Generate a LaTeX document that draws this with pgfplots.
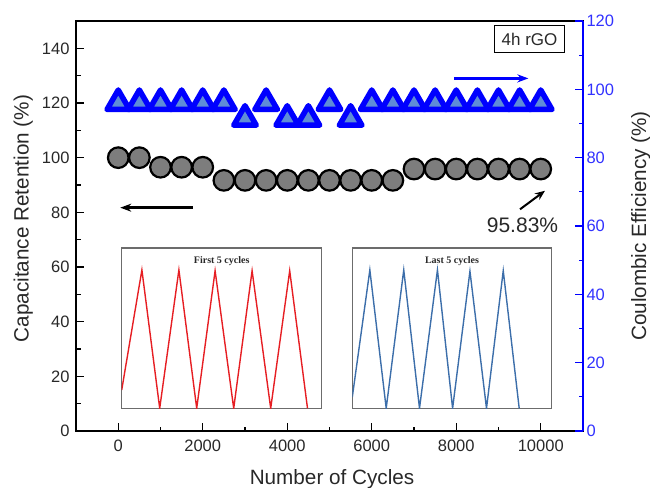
\documentclass[border=0pt]{standalone}
\usepackage{pgfplots}
\pgfplotsset{compat=1.18}
\usepackage{fontspec}
\setmainfont{Liberation Sans}
\newfontfamily\serifb{Liberation Serif}
\usetikzlibrary{arrows.meta}
\definecolor{cgray}{RGB}{125,125,125}
\definecolor{tfill}{RGB}{95,140,215}
\definecolor{pblue}{RGB}{0,0,255}
\definecolor{tblue}{RGB}{50,50,255}
\definecolor{txt}{RGB}{40,40,40}
\definecolor{ired}{RGB}{230,30,35}
\definecolor{iblue}{RGB}{60,110,170}
\begin{document}
\begin{tikzpicture}
\path[use as bounding box] (0,0) rectangle (650bp,488bp);
\begin{axis}[name=main, at={(76bp,57bp)}, anchor=south west, scale only axis,
 width=507bp, height=410bp,
 xmin=-1000, xmax=11000, ymin=0, ymax=150,
 xtick={0,2000,...,10000}, ytick={0,20,...,140},
 scaled x ticks=false,
 minor x tick num=1, minor y tick num=1,
 tick pos=left, tick align=inside, major tick length=8bp, minor tick length=4.5bp,
 every tick/.style={black, line width=1.3bp},
 axis line style={line width=2bp, black},
 ticklabel style={txt, font=\fontsize{16.5bp}{19bp}\selectfont},
 xticklabel style={yshift=-5bp},
 yticklabel style={xshift=-3bp},
 /pgf/number format/assume math mode=true,
 /pgf/number format/set thousands separator={},
 xlabel={Number of Cycles}, ylabel={Capacitance Retention (\%)},
 label style={txt, font=\fontsize{20.7bp}{24bp}\selectfont},
 xlabel style={at={(axis description cs:0.505,-0.131)}, anchor=base},
 ylabel style={at={(axis description cs:-0.104,0.518)}, anchor=center},
 clip=false]
\addplot[only marks, mark=*, mark size=10.3bp, mark options={fill=cgray, draw=black, line width=2.2bp}]
 coordinates {(0,100) (500,100) (1000,96.5) (1500,96.5) (2000,96.5)
 (2500,91.7) (3000,91.7) (3500,91.7) (4000,91.7) (4500,91.7) (5000,91.7) (5500,91.7) (6000,91.7) (6500,91.7)
 (7000,95.83) (7500,95.83) (8000,95.83) (8500,95.83) (9000,95.83) (9500,95.83) (10000,95.83)};
\node[draw=black, line width=1.3bp, minimum width=70bp, minimum height=27bp, inner sep=0pt,
 font=\fontsize{17bp}{20bp}\selectfont, text=txt] at (axis cs:9734,143.4) {4h rGO};
\draw[pblue, line width=2.5bp, -{Stealth[length=11bp,width=8bp]}] (axis cs:7954,129) -- (axis cs:9708,129);
\draw[black, line width=2.5bp, -{Stealth[length=11bp,width=8bp]}] (axis cs:1760,81.7) -- (axis cs:48,81.7);
\draw[black, line width=2bp, -{Stealth[length=10bp,width=8bp]}] (axis cs:9509,81.1) -- (axis cs:10101,87.9);
\node[txt, font=\fontsize{21bp}{24bp}\selectfont] at (axis cs:9568,75.4) {95.83\%};
\end{axis}
\begin{axis}[at={(76bp,57bp)}, anchor=south west, scale only axis,
 width=507bp, height=410bp,
 xmin=-1000, xmax=11000, ymin=0, ymax=120,
 axis x line=none, axis y line*=right,
 ytick={0,20,...,120}, minor y tick num=1,
 tick align=inside, major tick length=8bp, minor tick length=4.5bp,
 every tick/.style={pblue, line width=1.3bp},
 y axis line style={pblue, line width=2.5bp},
 yticklabel style={tblue, font=\fontsize{16.5bp}{19bp}\selectfont},
 /pgf/number format/assume math mode=true,
 ylabel={Coulombic Efficiency (\%)},
 ylabel style={txt, font=\fontsize{20.7bp}{24bp}\selectfont, at={(axis description cs:1.114,0.5)}, anchor=center, rotate=0},
 clip=false]
\addplot[only marks, mark=triangle*, mark size=13bp, mark options={fill=tfill, draw=pblue, line width=5.5bp, line join=round}]
 coordinates {(0,96) (500,96) (1000,96) (1500,96) (2000,96) (2500,96) (3000,91.4) (3500,96)
 (4000,91.4) (4500,91.4) (5000,96) (5500,91.4) (6000,96) (6500,96) (7000,96) (7500,96)
 (8000,96) (8500,96) (9000,96) (9500,96) (10000,96)};
\end{axis}
\begin{axis}[at={(121.7bp,79.7bp)}, anchor=south west, scale only axis,
 width=200bp, height=160.3bp, xmin=0, xmax=1, ymin=0, ymax=1,
 xtick=\empty, ytick=\empty, axis line style={draw=gray!85!black, line width=1.2bp}]
\addplot[ired, line width=1.4bp] coordinates {(0,0.114) (0.101,0.863) (0.190,0) (0.286,0.863) (0.375,0)
 (0.467,0.858) (0.560,0) (0.652,0.858) (0.745,0) (0.840,0.858) (0.929,0)};
\node[font=\serifb\bfseries\fontsize{10bp}{12bp}\selectfont, text=txt] at (axis cs:0.5,0.92) {First 5 cycles};
\end{axis}
\begin{axis}[at={(352.3bp,79.7bp)}, anchor=south west, scale only axis,
 width=199.4bp, height=160.3bp, xmin=0, xmax=1, ymin=0, ymax=1,
 xtick=\empty, ytick=\empty, axis line style={draw=gray!85!black, line width=1.2bp}]
\addplot[iblue, line width=1.4bp] coordinates {(0,0.07) (0.088,0.863) (0.170,0) (0.258,0.863) (0.337,0)
 (0.427,0.863) (0.503,0) (0.590,0.855) (0.673,0) (0.757,0.858) (0.837,0)};
\node[font=\serifb\bfseries\fontsize{10bp}{12bp}\selectfont, text=txt] at (axis cs:0.5,0.92) {Last 5 cycles};
\end{axis}
\end{tikzpicture}
\end{document}
